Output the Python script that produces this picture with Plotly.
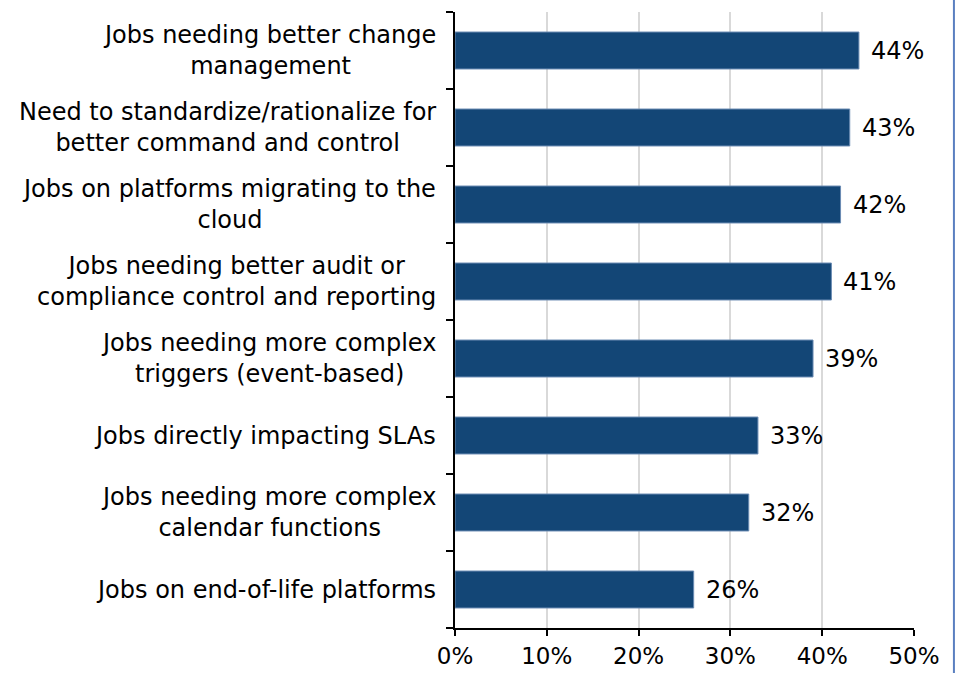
import plotly.graph_objects as go

categories = [
    "Jobs needing better change<br>management",
    "Need to standardize/rationalize for<br>better command and control",
    "Jobs on platforms migrating to the<br>cloud",
    "Jobs needing better audit or<br>compliance control and reporting",
    "Jobs needing more complex<br>triggers (event-based)",
    "Jobs directly impacting SLAs",
    "Jobs needing more complex<br>calendar functions",
    "Jobs on end-of-life platforms",
]
values = [44, 43, 42, 41, 39, 33, 32, 26]
x_ticks = [0, 10, 20, 30, 40, 50]
x_tick_labels = ["0%", "10%", "20%", "30%", "40%", "50%"]

FONT = "DejaVu Sans"
FS = 24

fig = go.Figure()
fig.add_trace(go.Bar(
    x=values,
    y=categories,
    orientation="h",
    marker=dict(color="#134676", line=dict(color="#6a8bb3", width=1)),
    hoverinfo="skip",
))

annotations = []
for c, v in zip(categories, values):
    annotations.append(dict(
        x=v, y=c, xref="x", yref="y", text=f"{v}%", showarrow=False,
        xanchor="left", yanchor="middle", xshift=10,
        font=dict(family=FONT, size=FS, color="#000000"),
    ))
    annotations.append(dict(
        x=0, y=c, xref="x", yref="y", text=c, showarrow=False,
        xanchor="right", yanchor="middle", align="center", xshift=-17,
        font=dict(family=FONT, size=FS, color="#000000"),
    ))

fig.update_layout(
    width=957, height=673,
    margin=dict(l=455, r=43, t=12, b=45, autoexpand=False),
    paper_bgcolor="white", plot_bgcolor="white",
    showlegend=False,
    bargap=0.52,
    font=dict(family=FONT, size=FS, color="#000000"),
    annotations=annotations,
    shapes=[dict(type="line", xref="paper", yref="paper", layer="above",
                 x0=1.087, x1=1.087, y0=-0.2, y1=1.2,
                 line=dict(color="#5a7fc0", width=2))],
    xaxis=dict(
        range=[0, 50], tickvals=x_ticks, ticktext=x_tick_labels,
        showgrid=True, gridcolor="#d9d9d9", gridwidth=2,
        showline=True, linecolor="#000000", linewidth=2,
        ticks="outside", ticklen=6, tickwidth=2, tickcolor="#000000",
        zeroline=False, fixedrange=True, automargin=False,
        tickfont=dict(family=FONT, size=23, color="#000000"),
    ),
    yaxis=dict(
        categoryorder="array", categoryarray=categories[::-1],
        showticklabels=False, automargin=False,
        showline=True, linecolor="#000000", linewidth=2,
        ticks="outside", ticklen=7, tickwidth=2, tickcolor="#000000",
        tickson="boundaries", showgrid=False, zeroline=False, fixedrange=True,
    ),
)

fig.write_html(
    "out.html",
    config={"displayModeBar": False, "responsive": False},
    post_script="document.body.style.margin='0';document.body.style.overflow='hidden';",
)
